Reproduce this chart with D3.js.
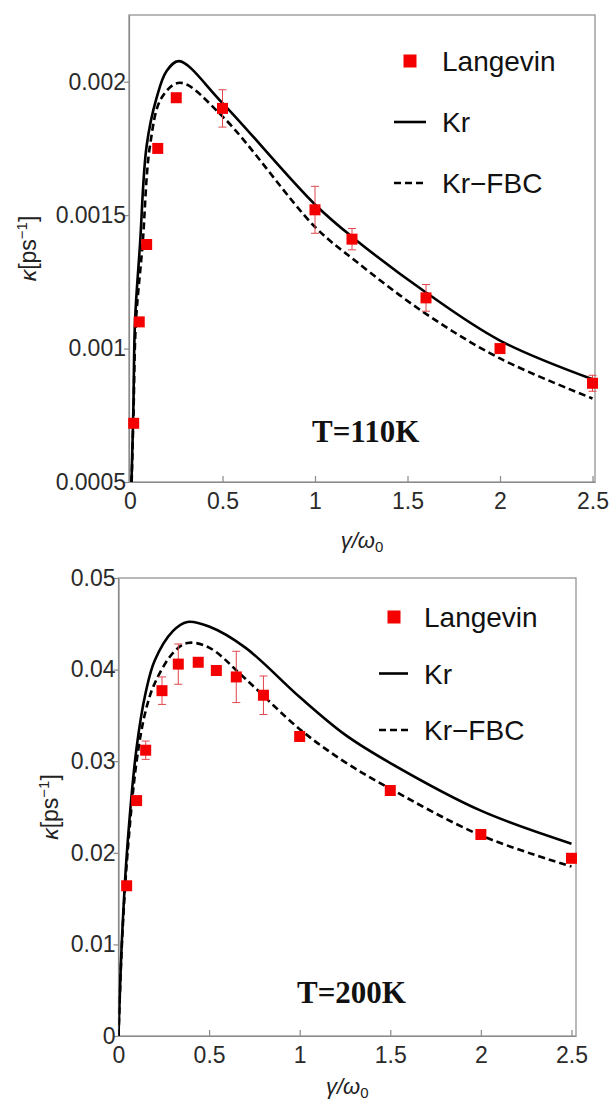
<!DOCTYPE html>
<html>
<head>
<meta charset="utf-8">
<script src="https://cdn.jsdelivr.net/npm/d3@7"></script>
<style>
  body { margin: 0; background: #fff; }
  text { font-family: "Liberation Sans", Arial, sans-serif; }
</style>
</head>
<body>
<div id="chart"></div>
<script>
// ---- data, T = 110K (top panel) ----
var gammaTop = [0.02, 0.05, 0.09, 0.15, 0.25, 0.5, 1.0, 1.2, 1.6, 2.0, 2.5]
var langevinTop = [0.00072, 0.0011, 0.00139, 0.00175, 0.00194, 0.0019, 0.00152, 0.00141, 0.00119, 0.00100, 0.00087]
var errTop = [0, 0, 0, 0, 0, 0.00007, 0.000088, 0.00004, 0.00005, 0.00001, 0.00003]

var krTopX = [0.008, 0.018, 0.027, 0.054, 0.09, 0.144, 0.198, 0.265, 0.5, 1.0, 1.216, 1.6, 2.0, 2.5]
var krTopY = [0.0005, 0.00077, 0.0011, 0.00139, 0.00176, 0.00194, 0.00204, 0.002077, 0.00192, 0.00154, 0.00141, 0.00121, 0.00103, 0.000885]
var fbcTopX = [0.009, 0.019, 0.032, 0.068, 0.108, 0.171, 0.27, 0.5, 1.0, 1.216, 1.6, 2.0, 2.5]
var fbcTopY = [0.0005, 0.00076, 0.0011, 0.00139, 0.00176, 0.00194, 0.001996, 0.00187, 0.001456, 0.00133, 0.00113, 0.000963, 0.000813]

var xTicksTop = [0, 0.5, 1, 1.5, 2, 2.5]
var yTicksTop = [0.0005, 0.001, 0.0015, 0.002]
var yTickLabelsTop = ["0.0005", "0.001", "0.0015", "0.002"]

// ---- data, T = 200K (bottom panel) ----
var gammaBot = [0.045, 0.1, 0.15, 0.24, 0.33, 0.44, 0.54, 0.65, 0.8, 1.0, 1.5, 2.0, 2.5]
var langevinBot = [0.0164, 0.0257, 0.0312, 0.0377, 0.0406, 0.0408, 0.0399, 0.0392, 0.0372, 0.0327, 0.0268, 0.0220, 0.0194]
var errBot = [0, 0, 0.001, 0.0015, 0.0022, 0, 0, 0.0028, 0.0021, 0, 0, 0, 0]

var krBotX = [0, 0.02, 0.05, 0.1, 0.15, 0.2, 0.3, 0.38, 0.5, 0.7, 1.0, 1.25, 1.5, 2.0, 2.5]
var krBotY = [0, 0.011, 0.021, 0.0315, 0.0375, 0.041, 0.0442, 0.0452, 0.0447, 0.0424, 0.0370, 0.0329, 0.0298, 0.0246, 0.0210]
var fbcBotX = [0, 0.02, 0.05, 0.1, 0.15, 0.2, 0.3, 0.38, 0.5, 0.7, 1.0, 1.25, 1.5, 2.0, 2.5]
var fbcBotY = [0, 0.0105, 0.020, 0.030, 0.0355, 0.0385, 0.0418, 0.0429, 0.0424, 0.0390, 0.0335, 0.0299, 0.0270, 0.0219, 0.0185]

var xTicksBot = [0, 0.5, 1, 1.5, 2, 2.5]
var yTicksBot = [0, 0.01, 0.02, 0.03, 0.04, 0.05]
var yTickLabelsBot = ["0", "0.01", "0.02", "0.03", "0.04", "0.05"]

var W = 610, H = 1104

var svg = d3.select("#chart").append("svg")
  .attr("width", W)
  .attr("height", H)
  .style("display", "block")

svg.append("rect").attr("width", W).attr("height", H).attr("fill", "#fff")

function zip(a, b) { return a.map(function(v, i) { return [v, b[i]] }) }

function drawPanel(p) {
  var x = d3.scaleLinear().domain(p.xDomain).range([p.left, p.right])
  var y = d3.scaleLinear().domain(p.yDomain).range([p.bottom, p.top])

  var g = svg.append("g")

  svg.append("clipPath").attr("id", p.id)
    .append("rect")
      .attr("x", p.left).attr("y", p.top)
      .attr("width", p.right - p.left).attr("height", p.bottom - p.top)

  // frame
  g.append("rect")
    .attr("x", p.left).attr("y", p.top)
    .attr("width", p.right - p.left).attr("height", p.bottom - p.top)
    .attr("fill", "none").attr("stroke", "#8a8a8a").attr("stroke-width", 1.2)

  // axes
  var xAxis = d3.axisBottom(x).tickValues(p.xTicks)
    .tickFormat(d3.format("~g")).tickSizeInner(-6).tickSizeOuter(0).tickPadding(11)
  var yAxis = d3.axisLeft(y).tickValues(p.yTicks)
    .tickFormat(function(d, i) { return p.yLabels[i] }).tickSizeInner(5).tickSizeOuter(0).tickPadding(-2)

  var gx = g.append("g").attr("transform", "translate(0," + p.bottom + ")").call(xAxis)
  var gy = g.append("g").attr("transform", "translate(" + p.left + ",0)").call(yAxis)
  ;[gx, gy].forEach(function(a) {
    a.select(".domain").attr("stroke", "#8a8a8a").attr("stroke-width", 1.2)
    a.selectAll(".tick line").attr("stroke", "#8a8a8a").attr("stroke-width", 1.2)
    a.selectAll(".tick text")
      .attr("fill", "#2a2a2a")
      .style("font-size", "23px")
      .style("font-family", "'Liberation Sans', Arial, sans-serif")
  })

  // curves
  var line = d3.line()
    .x(function(d) { return x(d[0]) })
    .y(function(d) { return y(d[1]) })
    .curve(d3.curveCatmullRom.alpha(0.5))

  var curves = g.append("g").attr("clip-path", "url(#" + p.id + ")")
  curves.append("path")
    .attr("d", line(zip(p.krX, p.krY)))
    .attr("fill", "none").attr("stroke", "#000").attr("stroke-width", 2.6)
  curves.append("path")
    .attr("d", line(zip(p.fbcX, p.fbcY)))
    .attr("fill", "none").attr("stroke", "#000").attr("stroke-width", 2.6)
    .attr("stroke-dasharray", "7,4")

  // error bars
  var pts = p.gamma.map(function(v, i) { return { g: v, k: p.kappa[i], e: p.err[i] } })
  var eb = g.append("g").attr("stroke", "#e0474c").attr("stroke-width", 1)
  pts.filter(function(d) { return d.e > 0 }).forEach(function(d) {
    var cx = x(d.g)
    eb.append("line").attr("x1", cx).attr("x2", cx).attr("y1", y(d.k - d.e)).attr("y2", y(d.k + d.e))
    eb.append("line").attr("x1", cx - 4).attr("x2", cx + 4).attr("y1", y(d.k - d.e)).attr("y2", y(d.k - d.e))
    eb.append("line").attr("x1", cx - 4).attr("x2", cx + 4).attr("y1", y(d.k + d.e)).attr("y2", y(d.k + d.e))
  })

  // markers
  var ms = 11
  g.append("g").selectAll("rect")
    .data(pts)
    .enter().append("rect")
      .attr("x", function(d) { return x(d.g) - ms / 2 })
      .attr("y", function(d) { return y(d.k) - ms / 2 })
      .attr("width", ms).attr("height", ms)
      .attr("fill", "#f40000")

  // legend
  var L = p.legend
  g.append("rect")
    .attr("x", L.sx - 6.5).attr("y", L.sy - 6.5).attr("width", 13).attr("height", 13)
    .attr("fill", "#f40000")
  g.append("line")
    .attr("x1", L.lx1).attr("x2", L.lx2).attr("y1", L.sy + L.step).attr("y2", L.sy + L.step)
    .attr("stroke", "#000").attr("stroke-width", 2.6)
  g.append("line")
    .attr("x1", L.lx1).attr("x2", L.lx2).attr("y1", L.sy + 2 * L.step).attr("y2", L.sy + 2 * L.step)
    .attr("stroke", "#000").attr("stroke-width", 2.6).attr("stroke-dasharray", "7,4")
  ;["Langevin", "Kr", "Kr\u2212FBC"].forEach(function(t, i) {
    g.append("text")
      .attr("x", L.tx).attr("y", L.sy + i * L.step + 10)
      .attr("fill", "#111")
      .style("font-size", "28px")
      .text(t)
  })

  // temperature label
  g.append("text")
    .attr("x", p.tLabel[0]).attr("y", p.tLabel[1])
    .style("font-family", "'Liberation Serif', 'DejaVu Serif', serif")
    .style("font-weight", "bold")
    .style("font-size", "31px")
    .attr("fill", "#111")
    .text(p.tText)

  // axis titles
  var xl = g.append("text")
    .attr("x", (p.left + p.right) / 2).attr("y", p.bottom + p.xTitleOff)
    .attr("text-anchor", "middle").attr("fill", "#222")
    .style("font-size", "22px")
  xl.append("tspan").style("font-style", "italic").text("\u03b3/\u03c9")
  xl.append("tspan").attr("dy", 4).style("font-size", "15px").text("0")

  var yl = g.append("text")
    .attr("transform", "translate(" + p.yTitleX + "," + ((p.top + p.bottom) / 2) + ") rotate(-90)")
    .attr("text-anchor", "middle").attr("fill", "#222")
    .style("font-size", "23px")
  yl.append("tspan").style("font-style", "italic").text("\u03ba")
  yl.append("tspan").text("[ps")
  yl.append("tspan").attr("dy", -9).style("font-size", "15px").text("\u22121")
  yl.append("tspan").attr("dy", 9).text("]")
}

drawPanel({
  id: "clipTop",
  left: 129, right: 595, top: 15, bottom: 482,
  xDomain: [-0.0054, 2.5135], yDomain: [0.0005, 0.00225],
  xTicks: xTicksTop, yTicks: yTicksTop, yLabels: yTickLabelsTop,
  gamma: gammaTop, kappa: langevinTop, err: errTop,
  krX: krTopX, krY: krTopY, fbcX: fbcTopX, fbcY: fbcTopY,
  legend: { sx: 410, sy: 61, step: 61, lx1: 394, lx2: 426, tx: 442 },
  tLabel: [312, 442], tText: "T=110K",
  xTitleOff: 66, yTitleX: 36
})

drawPanel({
  id: "clipBot",
  left: 118.5, right: 576, top: 578, bottom: 1036,
  xDomain: [0, 2.525], yDomain: [0, 0.05],
  xTicks: xTicksBot, yTicks: yTicksBot, yLabels: yTickLabelsBot,
  gamma: gammaBot, kappa: langevinBot, err: errBot,
  krX: krBotX, krY: krBotY, fbcX: fbcBotX, fbcY: fbcBotY,
  legend: { sx: 394, sy: 617, step: 56.5, lx1: 379, lx2: 408, tx: 424 },
  tLabel: [297, 1003], tText: "T=200K",
  xTitleOff: 58, yTitleX: 58
})
</script>
</body>
</html>
